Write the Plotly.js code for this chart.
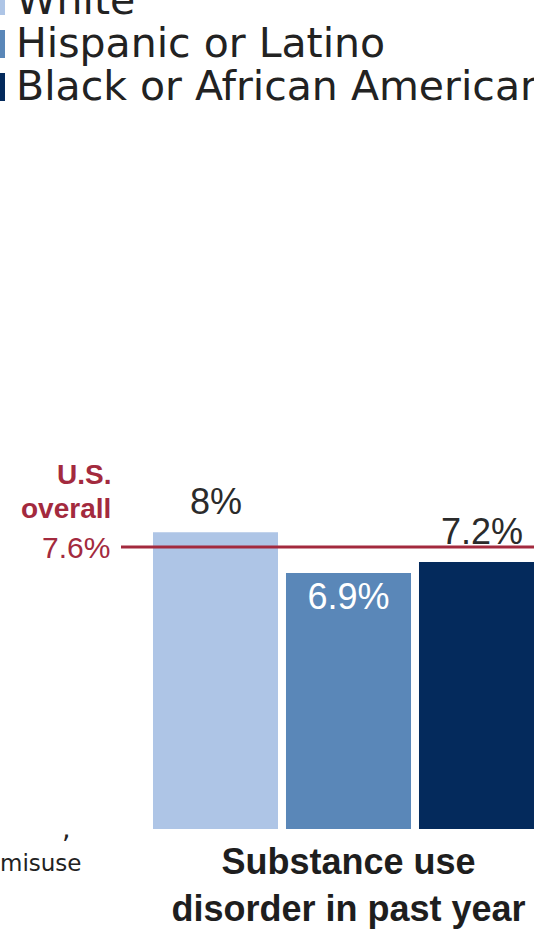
<!DOCTYPE html>
<html>
<head>
<meta charset="utf-8">
<script src="https://cdn.plot.ly/plotly-3.0.1.min.js"></script>
<style>html,body{margin:0;padding:0;background:#fff;}#chart{width:534px;height:930px;}</style>
</head>
<body>
<div id="chart"></div>
<script>
// ---- data ----
const categories = ["Substance use<br>disorder in past year"];
const groups = ["White", "Hispanic or Latino", "Black or African American"];
const values = [8, 6.9, 7.2];
const overallValue = 7.6;
const overallLabel = ["U.S.", "overall"];
const sideText = [",", "misuse"];

// ---- styles ----
const colors = ["#aec5e6", "#5a87b8", "#042a5c"];
const red = "#a32a3e";
const textDark = "#2b2b2b";
const W = 534, H = 930;
const mT = 458, mB = 101;
const plotH = H - mT - mB;
const py = p => (H - mB - p) / plotH;   // pixel row -> paper y
const px = p => p / W;                   // pixel col -> paper x

const bargap = 0.2, bargroupgap = 0.06;
const unitPx = 498.75;                      // px per category unit
const slotPx = unitPx * (1 - bargap) / groups.length;
const numFont = "Liberation Sans, Arial, sans-serif";

const traces = groups.map((g, i) => ({
  type: "bar",
  name: g,
  x: categories,
  y: [values[i]],
  marker: { color: colors[i], line: { width: 0 } },
  // value label drawn inside only where the reference puts it inside
  text: i === 1 ? [values[i] + "%"] : [""],
  textposition: "inside",
  insidetextanchor: "end",
  insidetextfont: { family: numFont, size: 36, color: "#ffffff" },
  hoverinfo: "skip",
  showlegend: false
}));

const annotations = [];
// value labels above bars (White, Black)
groups.forEach((g, i) => {
  if (i === 1) return;
  annotations.push({
    xref: "x", yref: "y", x: categories[0], y: values[i],
    xshift: (i - (groups.length - 1) / 2) * slotPx,
    xanchor: "center", yanchor: "bottom", yshift: 8,
    text: values[i] + "%", showarrow: false,
    font: { family: numFont, size: 36, color: textDark }
  });
});

// legend (drawn as text + swatches, partly cut off as in the reference)
const legendFont = { family: "DejaVu Sans, sans-serif", size: 41, color: "#222222" };
const legendRows = [15, 58, 101]; // baselines (px)
groups.forEach((g, i) => {
  annotations.push({
    xref: "paper", yref: "paper",
    x: px(14), y: py(legendRows[i]),
    xanchor: "left", yanchor: "bottom", yshift: -11,
    text: g, showarrow: false, font: legendFont
  });
});
const shapes = groups.map((g, i) => ({
  type: "rect", xref: "paper", yref: "paper",
  x0: px(-10), x1: px(5),
  y0: py(legendRows[i]), y1: py(legendRows[i] - 28),
  fillcolor: colors[i], line: { width: 0 }
}));

// U.S. overall reference label
const redBold = { family: numFont, size: 28, color: red, weight: "bold" };
annotations.push({
  xref: "paper", yref: "paper", x: px(113), y: py(485), xanchor: "right", yanchor: "bottom", yshift: -7,
  text: "<b>" + overallLabel[0] + "</b>", showarrow: false, font: redBold
});
annotations.push({
  xref: "paper", yref: "paper", x: px(113), y: py(519), xanchor: "right", yanchor: "bottom", yshift: -7,
  text: "<b>" + overallLabel[1] + "</b>", showarrow: false, font: redBold
});
annotations.push({
  xref: "paper", yref: "y", x: px(112), y: overallValue, xanchor: "right", yanchor: "middle",
  text: overallValue + "%", showarrow: false,
  font: { family: numFont, size: 30, color: red }
});

// fragment of neighbouring label at the left edge
annotations.push({
  xref: "paper", yref: "paper", x: px(60), y: py(840), xanchor: "left", yanchor: "bottom", yshift: -6,
  text: sideText[0], showarrow: false,
  font: { family: "DejaVu Sans, sans-serif", size: 27, color: "#222222" }
});
annotations.push({
  xref: "paper", yref: "paper", x: px(-2), y: py(872), xanchor: "left", yanchor: "bottom", yshift: -6,
  text: sideText[1], showarrow: false,
  font: { family: "DejaVu Sans, sans-serif", size: 23, color: "#222222" }
});

shapes.push({
  type: "line", xref: "paper", yref: "y",
  x0: px(121), x1: 1, y0: overallValue, y1: overallValue,
  line: { color: red, width: 3 }, layer: "above"
});

const layout = {
  width: W, height: H,
  margin: { l: 0, r: 0, t: mT, b: mB, pad: 0 },
  paper_bgcolor: "#ffffff", plot_bgcolor: "#ffffff",
  barmode: "group", bargap: bargap, bargroupgap: bargroupgap,
  xaxis: {
    type: "category",
    range: [-348.5 / unitPx, (W - 348.5) / unitPx],
    showgrid: false, zeroline: false, showline: false, ticks: "",
    tickfont: { family: numFont, size: 36, color: "#1e1e1e", weight: "bold" },
    ticklabelstandoff: 8,
    fixedrange: true
  },
  yaxis: {
    range: [0, 10], visible: false, showgrid: false, zeroline: false, fixedrange: true
  },
  showlegend: false,
  annotations: annotations,
  shapes: shapes
};

Plotly.newPlot("chart", traces, layout, { staticPlot: true, displayModeBar: false });
</script>
</body>
</html>
